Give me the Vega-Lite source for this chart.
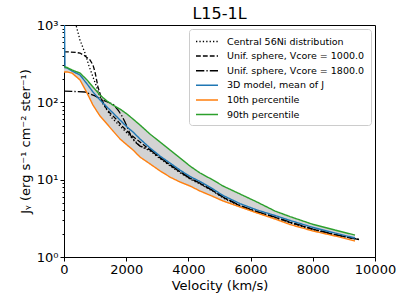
{
  "$schema": "https://vega.github.io/schema/vega-lite/v6.json",
  "width": 311,
  "height": 232,
  "autosize": "none",
  "padding": {"left": 64, "top": 25, "right": 32, "bottom": 47},
  "title": {"text": "L15-1L", "fontSize": 16, "font": "DejaVu Sans", "fontWeight": "normal", "color": "black", "offset": 5, "dy": 8, "anchor": "middle"},
  "datasets": {
    "model": [
      {"v": 0, "3D model, mean of J": 3000, "10th percentile": 247, "90th percentile": 287},
      {"v": 32, "3D model, mean of J": 280, "10th percentile": 247, "90th percentile": 287},
      {"v": 96, "3D model, mean of J": 278, "10th percentile": 247, "90th percentile": 282},
      {"v": 257, "3D model, mean of J": 254, "10th percentile": 239, "90th percentile": 262},
      {"v": 514, "3D model, mean of J": 226, "10th percentile": 195, "90th percentile": 239},
      {"v": 740, "3D model, mean of J": 173, "10th percentile": 132, "90th percentile": 195},
      {"v": 932, "3D model, mean of J": 136, "10th percentile": 92, "90th percentile": 158},
      {"v": 1158, "3D model, mean of J": 107, "10th percentile": 66.5, "90th percentile": 124},
      {"v": 1383, "3D model, mean of J": 87, "10th percentile": 52.5, "90th percentile": 104},
      {"v": 1576, "3D model, mean of J": 72.8, "10th percentile": 42.6, "90th percentile": 92},
      {"v": 1801, "3D model, mean of J": 59.1, "10th percentile": 33.6, "90th percentile": 82},
      {"v": 2026, "3D model, mean of J": 48.0, "10th percentile": 28.1, "90th percentile": 70.6},
      {"v": 2219, "3D model, mean of J": 41.3, "10th percentile": 24.2, "90th percentile": 60.8},
      {"v": 2444, "3D model, mean of J": 33.6, "10th percentile": 19.6, "90th percentile": 50.9},
      {"v": 2765, "3D model, mean of J": 25.7, "10th percentile": 16.0, "90th percentile": 38.9},
      {"v": 3087, "3D model, mean of J": 20.2, "10th percentile": 13.0, "90th percentile": 30.7},
      {"v": 3408, "3D model, mean of J": 16.4, "10th percentile": 10.8, "90th percentile": 24.2},
      {"v": 3730, "3D model, mean of J": 13.3, "10th percentile": 9.33, "90th percentile": 19.1},
      {"v": 4051, "3D model, mean of J": 11.0, "10th percentile": 8.28, "90th percentile": 15.0},
      {"v": 4373, "3D model, mean of J": 9.46, "10th percentile": 7.13, "90th percentile": 12.2},
      {"v": 4791, "3D model, mean of J": 7.57, "10th percentile": 6.06, "90th percentile": 9.90},
      {"v": 5113, "3D model, mean of J": 6.24, "10th percentile": 5.30, "90th percentile": 8.28},
      {"v": 5659, "3D model, mean of J": 4.90, "10th percentile": 4.43, "90th percentile": 6.53},
      {"v": 6206, "3D model, mean of J": 4.05, "10th percentile": 3.71, "90th percentile": 5.14},
      {"v": 6785, "3D model, mean of J": 3.44, "10th percentile": 3.10, "90th percentile": 3.93},
      {"v": 7267, "3D model, mean of J": 2.97, "10th percentile": 2.63, "90th percentile": 3.33},
      {"v": 8006, "3D model, mean of J": 2.41, "10th percentile": 2.17, "90th percentile": 2.64},
      {"v": 8714, "3D model, mean of J": 2.04, "10th percentile": 1.87, "90th percentile": 2.23},
      {"v": 9357, "3D model, mean of J": 1.76, "10th percentile": 1.61, "90th percentile": 1.92}
    ],
    "analytic": [
      {"series": "Central 56Ni distribution", "v": 129, "J": 12000},
      {"series": "Central 56Ni distribution", "v": 257, "J": 2100},
      {"series": "Central 56Ni distribution", "v": 386, "J": 1000},
      {"series": "Central 56Ni distribution", "v": 514, "J": 640},
      {"series": "Central 56Ni distribution", "v": 675, "J": 434},
      {"series": "Central 56Ni distribution", "v": 804, "J": 295},
      {"series": "Central 56Ni distribution", "v": 932, "J": 213},
      {"series": "Central 56Ni distribution", "v": 1061, "J": 153},
      {"series": "Central 56Ni distribution", "v": 1158, "J": 117},
      {"series": "Central 56Ni distribution", "v": 1254, "J": 95},
      {"series": "Central 56Ni distribution", "v": 1383, "J": 79.6},
      {"series": "Central 56Ni distribution", "v": 1543, "J": 62.7},
      {"series": "Central 56Ni distribution", "v": 1704, "J": 54.1},
      {"series": "Central 56Ni distribution", "v": 1865, "J": 46.6},
      {"series": "Central 56Ni distribution", "v": 2026, "J": 40.1},
      {"series": "Central 56Ni distribution", "v": 2219, "J": 33.6},
      {"series": "Central 56Ni distribution", "v": 2444, "J": 27.2},
      {"series": "Central 56Ni distribution", "v": 2765, "J": 23.6},
      {"series": "Central 56Ni distribution", "v": 3087, "J": 18.7},
      {"series": "Central 56Ni distribution", "v": 3408, "J": 15.1},
      {"series": "Central 56Ni distribution", "v": 3730, "J": 12.3},
      {"series": "Central 56Ni distribution", "v": 4051, "J": 10.2},
      {"series": "Central 56Ni distribution", "v": 4373, "J": 8.8},
      {"series": "Central 56Ni distribution", "v": 4791, "J": 7.05},
      {"series": "Central 56Ni distribution", "v": 5113, "J": 5.83},
      {"series": "Central 56Ni distribution", "v": 5659, "J": 4.55},
      {"series": "Central 56Ni distribution", "v": 6206, "J": 3.80},
      {"series": "Central 56Ni distribution", "v": 6785, "J": 3.23},
      {"series": "Central 56Ni distribution", "v": 7267, "J": 2.78},
      {"series": "Central 56Ni distribution", "v": 8006, "J": 2.26},
      {"series": "Central 56Ni distribution", "v": 8714, "J": 1.93},
      {"series": "Central 56Ni distribution", "v": 9486, "J": 1.68},
      {"series": "Unif. sphere, Vcore = 1000.0", "v": 0, "J": 448},
      {"series": "Unif. sphere, Vcore = 1000.0", "v": 193, "J": 448},
      {"series": "Unif. sphere, Vcore = 1000.0", "v": 386, "J": 441},
      {"series": "Unif. sphere, Vcore = 1000.0", "v": 514, "J": 434},
      {"series": "Unif. sphere, Vcore = 1000.0", "v": 675, "J": 397},
      {"series": "Unif. sphere, Vcore = 1000.0", "v": 836, "J": 353},
      {"series": "Unif. sphere, Vcore = 1000.0", "v": 932, "J": 304},
      {"series": "Unif. sphere, Vcore = 1000.0", "v": 997, "J": 247},
      {"series": "Unif. sphere, Vcore = 1000.0", "v": 1093, "J": 158},
      {"series": "Unif. sphere, Vcore = 1000.0", "v": 1222, "J": 107},
      {"series": "Unif. sphere, Vcore = 1000.0", "v": 1350, "J": 84.5},
      {"series": "Unif. sphere, Vcore = 1000.0", "v": 1479, "J": 72.8},
      {"series": "Unif. sphere, Vcore = 1000.0", "v": 1672, "J": 60.8},
      {"series": "Unif. sphere, Vcore = 1000.0", "v": 1897, "J": 48.0},
      {"series": "Unif. sphere, Vcore = 1000.0", "v": 2122, "J": 38.9},
      {"series": "Unif. sphere, Vcore = 1000.0", "v": 2444, "J": 30.7},
      {"series": "Unif. sphere, Vcore = 1000.0", "v": 2765, "J": 24.3},
      {"series": "Unif. sphere, Vcore = 1000.0", "v": 3087, "J": 19.2},
      {"series": "Unif. sphere, Vcore = 1000.0", "v": 3408, "J": 15.5},
      {"series": "Unif. sphere, Vcore = 1000.0", "v": 3730, "J": 12.6},
      {"series": "Unif. sphere, Vcore = 1000.0", "v": 4051, "J": 10.4},
      {"series": "Unif. sphere, Vcore = 1000.0", "v": 4373, "J": 8.95},
      {"series": "Unif. sphere, Vcore = 1000.0", "v": 4791, "J": 7.18},
      {"series": "Unif. sphere, Vcore = 1000.0", "v": 5113, "J": 5.92},
      {"series": "Unif. sphere, Vcore = 1000.0", "v": 5659, "J": 4.60},
      {"series": "Unif. sphere, Vcore = 1000.0", "v": 6206, "J": 3.84},
      {"series": "Unif. sphere, Vcore = 1000.0", "v": 6785, "J": 3.26},
      {"series": "Unif. sphere, Vcore = 1000.0", "v": 7267, "J": 2.81},
      {"series": "Unif. sphere, Vcore = 1000.0", "v": 8006, "J": 2.28},
      {"series": "Unif. sphere, Vcore = 1000.0", "v": 8714, "J": 1.94},
      {"series": "Unif. sphere, Vcore = 1000.0", "v": 9486, "J": 1.68},
      {"series": "Unif. sphere, Vcore = 1800.0", "v": 0, "J": 140},
      {"series": "Unif. sphere, Vcore = 1800.0", "v": 354, "J": 138},
      {"series": "Unif. sphere, Vcore = 1800.0", "v": 675, "J": 136},
      {"series": "Unif. sphere, Vcore = 1800.0", "v": 997, "J": 121},
      {"series": "Unif. sphere, Vcore = 1800.0", "v": 1254, "J": 107},
      {"series": "Unif. sphere, Vcore = 1800.0", "v": 1479, "J": 98},
      {"series": "Unif. sphere, Vcore = 1800.0", "v": 1576, "J": 95},
      {"series": "Unif. sphere, Vcore = 1800.0", "v": 1736, "J": 79.6},
      {"series": "Unif. sphere, Vcore = 1800.0", "v": 1865, "J": 66.5},
      {"series": "Unif. sphere, Vcore = 1800.0", "v": 1961, "J": 55.7},
      {"series": "Unif. sphere, Vcore = 1800.0", "v": 2058, "J": 45.2},
      {"series": "Unif. sphere, Vcore = 1800.0", "v": 2154, "J": 36.7},
      {"series": "Unif. sphere, Vcore = 1800.0", "v": 2283, "J": 30.7},
      {"series": "Unif. sphere, Vcore = 1800.0", "v": 2444, "J": 27.2},
      {"series": "Unif. sphere, Vcore = 1800.0", "v": 2765, "J": 24.5},
      {"series": "Unif. sphere, Vcore = 1800.0", "v": 3087, "J": 19.4},
      {"series": "Unif. sphere, Vcore = 1800.0", "v": 3408, "J": 15.7},
      {"series": "Unif. sphere, Vcore = 1800.0", "v": 3730, "J": 12.7},
      {"series": "Unif. sphere, Vcore = 1800.0", "v": 4051, "J": 10.5},
      {"series": "Unif. sphere, Vcore = 1800.0", "v": 4373, "J": 9.05},
      {"series": "Unif. sphere, Vcore = 1800.0", "v": 4791, "J": 7.22},
      {"series": "Unif. sphere, Vcore = 1800.0", "v": 5113, "J": 5.96},
      {"series": "Unif. sphere, Vcore = 1800.0", "v": 5659, "J": 4.63},
      {"series": "Unif. sphere, Vcore = 1800.0", "v": 6206, "J": 3.87},
      {"series": "Unif. sphere, Vcore = 1800.0", "v": 6785, "J": 3.28},
      {"series": "Unif. sphere, Vcore = 1800.0", "v": 7267, "J": 2.83},
      {"series": "Unif. sphere, Vcore = 1800.0", "v": 8006, "J": 2.30},
      {"series": "Unif. sphere, Vcore = 1800.0", "v": 8714, "J": 1.95},
      {"series": "Unif. sphere, Vcore = 1800.0", "v": 9486, "J": 1.69}
    ]
  },
  "layer": [
    {
      "data": {"name": "model"},
      "mark": {"type": "area", "fill": "#d3d3d3", "opacity": 1, "clip": true},
      "encoding": {
        "x": {"field": "v", "type": "quantitative"},
        "y": {"field": "10th percentile", "type": "quantitative"},
        "y2": {"field": "90th percentile"}
      }
    },
    {
      "data": {"name": "analytic"},
      "mark": {"type": "line", "strokeWidth": 1.3, "clip": true},
      "encoding": {
        "x": {"field": "v", "type": "quantitative"},
        "y": {"field": "J", "type": "quantitative"},
        "color": {
          "field": "series", "type": "nominal",
          "scale": {
            "domain": ["Central 56Ni distribution", "Unif. sphere, Vcore = 1000.0", "Unif. sphere, Vcore = 1800.0", "3D model, mean of J", "10th percentile", "90th percentile"],
            "range": ["#000000", "#000000", "#000000", "#1f77b4", "#ff7f0e", "#2ca02c"]
          },
          "legend": {"title": null, "orient": "top-right", "offset": 4}
        },
        "strokeDash": {
          "field": "series", "type": "nominal",
          "scale": {
            "domain": ["Central 56Ni distribution", "Unif. sphere, Vcore = 1000.0", "Unif. sphere, Vcore = 1800.0", "3D model, mean of J", "10th percentile", "90th percentile"],
            "range": [[1.3, 2.1], [4.8, 2.1], [8.3, 2.1, 1.3, 2.1], [1, 0], [1, 0], [1, 0]]
          },
          "legend": {"title": null, "orient": "top-right", "offset": 4}
        },
        "order": {"field": "v", "type": "quantitative"}
      }
    },
    {
      "data": {"name": "model"},
      "transform": [{"fold": ["3D model, mean of J", "10th percentile", "90th percentile"], "as": ["series", "J"]}],
      "mark": {"type": "line", "strokeWidth": 1.4, "clip": true},
      "encoding": {
        "x": {"field": "v", "type": "quantitative"},
        "y": {"field": "J", "type": "quantitative"},
        "color": {"field": "series", "type": "nominal"},
        "strokeDash": {"field": "series", "type": "nominal"},
        "order": {"field": "v", "type": "quantitative"}
      }
    }
  ],
  "encoding": {
    "x": {
      "field": "v", "type": "quantitative",
      "scale": {"domain": [0, 10000], "nice": false, "zero": false},
      "axis": {"title": "Velocity (km/s)", "values": [0, 2000, 4000, 6000, 8000, 10000], "format": "d", "grid": false, "labelFontSize": 13, "titleFontSize": 13, "labelFont": "DejaVu Sans", "titleFont": "DejaVu Sans", "titleFontWeight": "normal", "labelColor": "black", "titleColor": "black", "tickColor": "black", "domainColor": "black", "tickSize": 4, "labelPadding": 2, "titlePadding": 3, "labelFlush": false, "labelOverlap": false}
    },
    "y": {
      "field": "J", "type": "quantitative",
      "scale": {"type": "log", "domain": [1, 1000], "nice": false},
      "axis": {
        "title": "Jᵧ (erg s⁻¹ cm⁻² ster⁻¹)",
        "values": [1, 2, 3, 4, 5, 6, 7, 8, 9, 10, 20, 30, 40, 50, 60, 70, 80, 90, 100, 200, 300, 400, 500, 600, 700, 800, 900, 1000],
        "labelExpr": "datum.value == 1 ? '10⁰' : datum.value == 10 ? '10¹' : datum.value == 100 ? '10²' : datum.value == 1000 ? '10³' : ''",
        "tickSize": {"condition": {"test": "datum.value == 1 || datum.value == 10 || datum.value == 100 || datum.value == 1000", "value": 4}, "value": 2},
        "grid": false, "labelFontSize": 13, "titleFontSize": 13, "labelFont": "DejaVu Sans", "titleFont": "DejaVu Sans", "titleFontWeight": "normal", "labelColor": "black", "titleColor": "black", "tickColor": "black", "domainColor": "black", "labelPadding": 2, "titlePadding": 4, "labelOverlap": false, "labelFlush": false
      }
    }
  },
  "config": {
    "view": {"stroke": "black", "strokeWidth": 1},
    "font": "DejaVu Sans",
    "legend": {
      "symbolType": "M-1,0H3", "symbolSize": 121, "symbolStrokeWidth": 1.5, "labelFontSize": 9.5, "labelFont": "DejaVu Sans", "labelColor": "black",
      "fillColor": "white", "strokeColor": "#cccccc", "cornerRadius": 3, "padding": 6, "rowPadding": 3.6, "labelOffset": 19, "labelLimit": 300
    }
  }
}
